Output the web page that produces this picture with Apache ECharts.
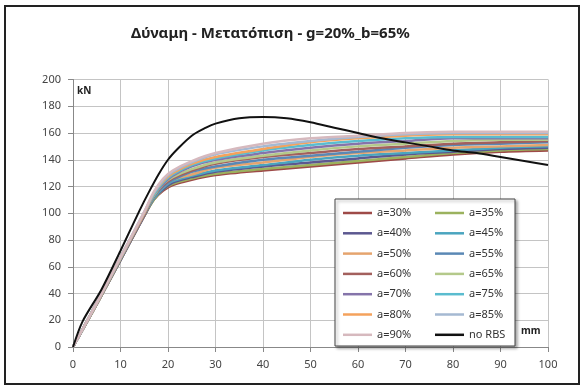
<!DOCTYPE html>
<html style="height: 100%">
   <head>
       <meta charset="utf-8">
       <title>Δύναμη - Μετατόπιση</title>
       <script type="text/javascript" src="https://cdn.jsdelivr.net/npm/echarts@6/dist/echarts.min.js"></script>
   </head>
   <body style="height: 100%; width:100%; margin: 0; background: #fff">
       <div id="container" style="height: 389px; width:584px"></div>
       <script type="text/javascript">

// displacement points (mm) for the a=.. curves
var disp = [0, 5, 10, 15, 17, 19, 21, 25, 30, 40, 50, 60, 70, 80, 90, 100];
var a30 = [0, 32, 65, 98, 110, 117, 121, 125, 128.5, 132, 135, 138, 141, 144, 146, 147];
var a35 = [0, 32, 65, 98, 110, 118, 122, 126, 129.5, 133, 136, 139, 142, 145, 147, 148];
var a40 = [0, 32, 65, 98, 111, 118, 123, 127, 131, 135, 138, 141, 144, 146, 148, 149];
var a45 = [0, 32, 66, 99, 111, 119, 124, 128, 132, 136, 140, 143, 145, 147, 149, 150];
var a50 = [0, 32, 66, 99, 112, 120, 125, 129, 134, 138, 142, 145, 147, 149, 150, 151];
var a55 = [0, 33, 66, 99, 112, 120, 125, 131, 135, 140, 143, 146, 149, 151, 152, 153];
var a60 = [0, 33, 66, 99, 113, 121, 126, 132, 137, 142, 145, 148, 150, 152, 153, 154];
var a65 = [0, 33, 66, 100, 113, 122, 127, 133, 138, 143, 147, 150, 152, 154, 155, 155];
var a70 = [0, 33, 67, 100, 114, 122, 128, 135, 140, 145, 149, 152, 154, 156, 156, 156];
var a75 = [0, 33, 67, 100, 114, 123, 129, 136, 141, 147, 151, 154, 156, 157, 157, 157];
var a80 = [0, 33, 67, 100, 115, 124, 130, 137, 142, 148, 153, 156, 158, 159, 159, 159];
var a85 = [0, 33, 67, 101, 115, 125, 131, 138, 144, 150, 154, 157, 159, 160, 160, 160];
var a90 = [0, 33, 67, 101, 116, 126, 132, 139, 145, 152, 156, 158, 160, 161, 161, 161];

// no RBS curve
var dispRef = [0, 2, 6, 10, 14, 16, 18, 20, 22, 25, 28, 30, 35, 40, 45, 50, 55, 60, 65, 70, 75, 80, 85, 90, 95, 100];
var noRBS = [0, 19, 43, 72, 102, 116, 129, 140, 148, 158, 164, 167, 171, 172, 171, 168, 164, 160, 156, 153, 150, 147, 145, 142, 139, 136];

var names = ['a=30%', 'a=35%', 'a=40%', 'a=45%', 'a=50%', 'a=55%', 'a=60%',
             'a=65%', 'a=70%', 'a=75%', 'a=80%', 'a=85%', 'a=90%'];
var curves = [a30, a35, a40, a45, a50, a55, a60, a65, a70, a75, a80, a85, a90];
var colors = ['#9E4A48', '#9BB25E', '#5C5890', '#4AA5BF', '#E5A46E', '#5A88B5', '#A3605D',
              '#B4C98A', '#8574AA', '#5ABCCF', '#F4A25C', '#A5B9D2', '#D6B9BE'];

var dom = document.getElementById("container");
var myChart = echarts.init(dom);

function pairs(xs, ys) {
    return xs.map(function (x, i) { return [x, ys[i]]; });
}

var series = [];
curves.forEach(function (c, i) {
    series.push({
        name: names[i],
        type: 'line',
        data: pairs(disp, c),
        smooth: 0.3,
        symbol: 'none',
        animation: false,
        lineStyle: { width: 2.5, color: colors[i] },
        itemStyle: { color: colors[i] }
    });
});
series.push({
    name: 'no RBS',
    type: 'line',
    data: pairs(dispRef, noRBS),
    smooth: 0.3,
    symbol: 'none',
    animation: false,
    z: 3,
    lineStyle: { width: 2, color: '#111' },
    itemStyle: { color: '#111' }
});

var legendText = { fontSize: 11, color: '#333', fontFamily: 'Noto Sans', lineHeight: 14 };

var option = {
    backgroundColor: '#fff',
    animation: false,
    textStyle: { fontFamily: 'Noto Sans' },
    title: {
        text: 'Δύναμη - Μετατόπιση - g=20%_b=65%',
        left: 126,
        top: 21,
        textStyle: { fontSize: 15, fontWeight: 'bold', color: '#222', fontFamily: 'Noto Sans' }
    },
    grid: { left: 73, right: 36, top: 79.5, bottom: 42 },
    xAxis: {
        type: 'value',
        min: 0, max: 100, interval: 10,
        axisLine: { show: true, lineStyle: { color: '#888' } },
        axisTick: { show: true, length: 5, lineStyle: { color: '#888' } },
        axisLabel: { fontSize: 11, color: '#444', margin: 12 },
        splitLine: { show: true, lineStyle: { color: '#c4c4c4' } }
    },
    yAxis: {
        type: 'value',
        min: 0, max: 200, interval: 20,
        axisLine: { show: true, lineStyle: { color: '#888' } },
        axisTick: { show: true, length: 5, lineStyle: { color: '#888' } },
        axisLabel: { fontSize: 11, color: '#444', margin: 12 },
        splitLine: { show: true, lineStyle: { color: '#c4c4c4' } }
    },
    legend: [{
        data: ['a=30%', 'a=40%', 'a=50%', 'a=60%', 'a=70%', 'a=80%', 'a=90%'],
        orient: 'vertical',
        left: 343, top: 206,
        padding: 0,
        icon: 'rect',
        itemWidth: 29, itemHeight: 2.5, itemGap: 6.3,
        selectedMode: false,
        z: 20,
        textStyle: legendText
    }, {
        data: ['a=35%', 'a=45%', 'a=55%', 'a=65%', 'a=75%', 'a=85%', 'no RBS'],
        orient: 'vertical',
        left: 435, top: 206,
        padding: 0,
        icon: 'rect',
        itemWidth: 29, itemHeight: 2.5, itemGap: 6.3,
        selectedMode: false,
        z: 20,
        textStyle: legendText
    }],
    graphic: [{
        type: 'rect',
        shape: { x: 5, y: 6, width: 574, height: 378 },
        style: { fill: 'none', stroke: '#222', lineWidth: 2 },
        z: 1
    }, {
        type: 'rect',
        shape: { x: 335, y: 199, width: 180, height: 147 },
        style: {
            fill: '#fff', stroke: '#444', lineWidth: 1,
            shadowColor: 'rgba(0,0,0,0.35)', shadowBlur: 3, shadowOffsetX: 2, shadowOffsetY: 2
        },
        z: 10
    }, {
        type: 'text',
        left: 77, top: 86,
        style: { text: 'kN', fontSize: 10, fontWeight: 'bold', fill: '#222', fontFamily: 'Noto Sans' },
        z: 10
    }, {
        type: 'text',
        left: 521, top: 326,
        style: { text: 'mm', fontSize: 10, fontWeight: 'bold', fill: '#222', fontFamily: 'Noto Sans' },
        z: 10
    }],
    series: series
};

myChart.setOption(option);
       </script>
   </body>
</html>
